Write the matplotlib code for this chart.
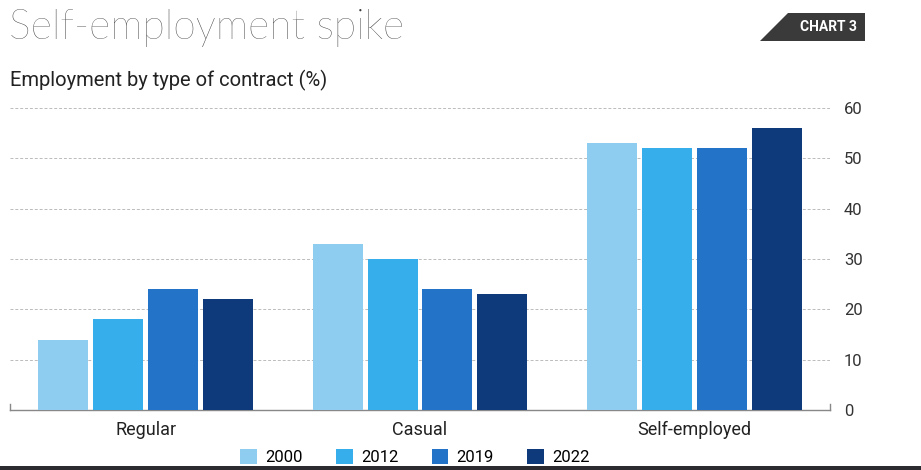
import numpy as np
import matplotlib.pyplot as plt
from matplotlib.patches import Polygon, Rectangle

categories = ["Regular", "Casual", "Self-employed"]
years = ["2000", "2012", "2019", "2022"]
values_2000 = [14, 33, 53]
values_2012 = [18, 30, 52]
values_2019 = [24, 24, 52]
values_2022 = [22, 23, 56]
series = [values_2000, values_2012, values_2019, values_2022]
colors = ["#8fcdf0", "#36aeec", "#2373c9", "#0e3a7c"]

W, H = 921, 470
fig = plt.figure(figsize=(W / 100, H / 100), dpi=100)
ax = fig.add_axes([10 / W, 1 - 410 / H, 820 / W, 302 / H])

x = np.arange(len(categories))
step, width = 0.2, 0.182
for i, (vals, col, yr) in enumerate(zip(series, colors, years)):
    ax.bar(x + (i - 1.5) * step, vals, width, color=col, label=yr, zorder=3)

narrow = ["Roboto", "DejaVu Sans"]

ax.set_xlim(-0.494, 2.494)
ax.set_ylim(0, 60)
ax.set_yticks(range(0, 61, 10))
ax.yaxis.tick_right()
ax.tick_params(axis="y", length=0, pad=10, labelsize=12, labelcolor="#333333")
ax.tick_params(axis="x", length=0, pad=8, labelsize=13, labelcolor="#222222")
ax.set_xticks(x)
ax.set_xticklabels(categories)
for lab in ax.get_xticklabels() + ax.get_yticklabels():
    lab.set_family(narrow)

ax.grid(axis="y", color="#bbbbbb", linestyle=(0, (3, 2)), linewidth=0.7, zorder=0)
for s in ["top", "right", "left"]:
    ax.spines[s].set_visible(False)
ax.spines["bottom"].set_color("#888888")
ax.spines["bottom"].set_linewidth(1.0)
# small end ticks on the baseline
for xe in ax.get_xlim():
    ax.plot([xe, xe], [0, 1.2], color="#888888", lw=1.0, clip_on=False, zorder=4)

fig.text(9 / W, 1 - 28 / H, "Self-employment spike", fontsize=29.5, family="Lato",
         fontweight="light", color="#3a3a3a", va="center", ha="left")
fig.text(10 / W, 1 - 80 / H, "Employment by type of contract (%)", fontsize=14.5,
         family=narrow, color="#222222", va="center", ha="left")

# CHART 3 badge
badge = Polygon([(760 / W, 1 - 41 / H), (788 / W, 1 - 13 / H), (865 / W, 1 - 13 / H),
                 (865 / W, 1 - 41 / H)], closed=True, transform=fig.transFigure,
                facecolor="#3a3a3a", edgecolor="none")
fig.patches.append(badge)
fig.text(828 / W, 1 - 27 / H, "CHART 3", fontsize=10, color="white", fontweight="bold",
         family=narrow, ha="center", va="center")

fig.legend(loc="center", bbox_to_anchor=(415 / W, 1 - 457 / H), ncol=4, frameon=False,
           handlelength=1.0, handleheight=1.0, handletextpad=0.5,
           columnspacing=2.0, prop={"family": narrow, "size": 12})

# dark band at the bottom edge
fig.patches.append(Rectangle((0, 0), 1, 4 / H, transform=fig.transFigure,
                             facecolor="#2b2b30", edgecolor="none", zorder=10))

fig.savefig("out.png", dpi=100)
